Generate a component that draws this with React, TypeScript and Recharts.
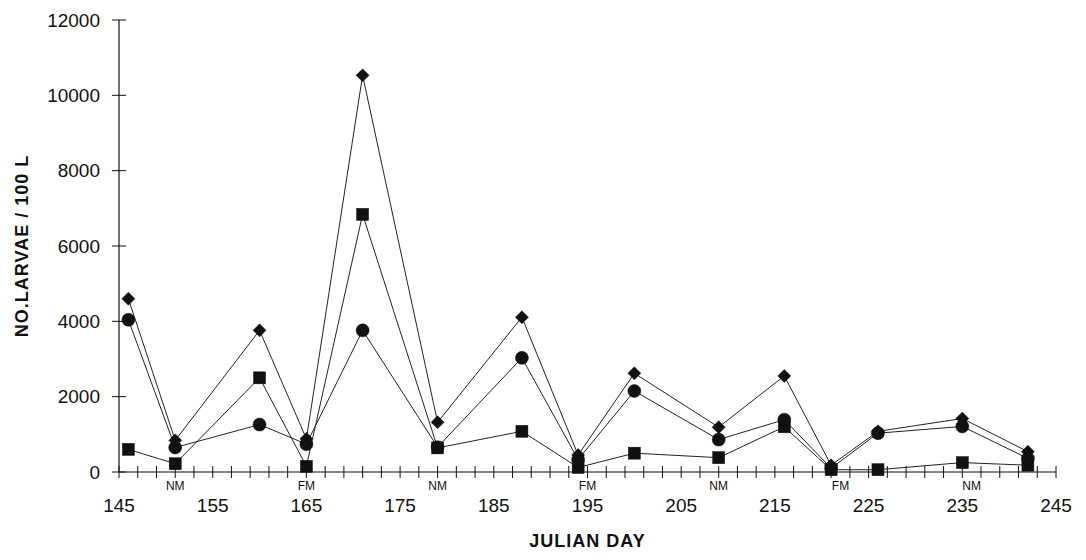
import React from 'react';
import { LineChart, Line, XAxis, YAxis } from 'recharts';

// sampling days and larval densities (no. / 100 L)
const days = [146, 151, 160, 165, 171, 179, 188, 194, 200, 209, 216, 221, 226, 235, 242];
const totalLarvae = [4600, 840, 3760, 880, 10530, 1320, 4110, 450, 2620, 1190, 2550, 180, 1080, 1420, 540];
const circleLarvae = [4040, 650, 1260, 740, 3760, 660, 3030, 330, 2150, 860, 1390, 100, 1030, 1210, 360];
const squareLarvae = [600, 220, 2500, 150, 6840, 640, 1080, 120, 500, 380, 1200, 60, 60, 250, 180];

const yTicks = [0, 2000, 4000, 6000, 8000, 10000, 12000];
const dayLabels = [145, 155, 165, 175, 185, 195, 205, 215, 225, 235, 245];

// lunar phases marked under the axis
const moonDays = [151, 165, 179, 195, 209, 222, 236];
const moonLabels = ['NM', 'FM', 'NM', 'FM', 'NM', 'FM', 'NM'];

const W = 1070;
const H = 545;
const MARGIN = { top: 12, right: 22, bottom: 6, left: 0 };
const Y_AXIS_W = 111;
const X_AXIS_H = 75;
const PLOT_TOP = MARGIN.top;
const PLOT_BOTTOM = H - MARGIN.bottom - X_AXIS_H;
const PLOT_LEFT = MARGIN.left + Y_AXIS_W;
const PLOT_RIGHT = W - MARGIN.right;

const FONT = 'Arial, "Liberation Sans", Helvetica, sans-serif';
const INK = '#111';

const data = days.map((day, i) => ({
  day,
  total: totalLarvae[i],
  circle: circleLarvae[i],
  square: squareLarvae[i],
}));

// minor ticks every second day, plus the moon-phase positions
const minorDays: number[] = [];
for (let d = 145; d <= 245; d += 2) minorDays.push(d);
const xTicks = Array.from(new Set([...minorDays, ...moonDays])).sort((a, b) => a - b);

const DayTick = (props: any) => {
  const { x, y, payload } = props;
  const v = payload.value;
  const onGrid = (v - 145) % 2 === 0;
  const major = dayLabels.includes(v);
  const m = moonDays.indexOf(v);
  return (
    <g>
      {onGrid && <line x1={x} x2={x} y1={y - 6} y2={y + 6} stroke={INK} strokeWidth={1} />}
      {m >= 0 && (
        <text x={x} y={y + 14} textAnchor="middle" dominantBaseline="central" fontSize={12} fontFamily={FONT} fill={INK}>
          {moonLabels[m]}
        </text>
      )}
      {major && (
        <text x={x} y={y + 33} textAnchor="middle" dominantBaseline="central" fontSize={19} fontFamily={FONT} fill={INK}>
          {v}
        </text>
      )}
    </g>
  );
};

const LarvaeTick = (props: any) => {
  const { x, y, payload } = props;
  return (
    <g>
      <line x1={x - 7} x2={x + 7} y1={y} y2={y} stroke={INK} strokeWidth={1} />
      <text x={x - 19} y={y} textAnchor="end" dominantBaseline="central" fontSize={19} fontFamily={FONT} fill={INK}>
        {payload.value}
      </text>
    </g>
  );
};

const diamondDot = (p: any) => {
  const { cx, cy, index } = p;
  const r = 6.5;
  return (
    <path
      key={`dia-${index}`}
      d={`M${cx},${cy - r}L${cx + r},${cy}L${cx},${cy + r}L${cx - r},${cy}Z`}
      fill={INK}
      stroke={INK}
      strokeWidth={0.5}
    />
  );
};

const circleDot = (p: any) => {
  const { cx, cy, index } = p;
  return <circle key={`cir-${index}`} cx={cx} cy={cy} r={6.5} fill={INK} stroke={INK} strokeWidth={0.5} />;
};

const squareDot = (p: any) => {
  const { cx, cy, index } = p;
  const s = 12;
  return <rect key={`sq-${index}`} x={cx - s / 2} y={cy - s / 2} width={s} height={s} fill={INK} stroke={INK} strokeWidth={0.5} />;
};

const YTitle = () => {
  const cx = 14;
  const cy = (PLOT_TOP + PLOT_BOTTOM) / 2;
  return (
    <text
      x={cx}
      y={cy}
      transform={`rotate(-90 ${cx} ${cy})`}
      textAnchor="middle"
      dominantBaseline="central"
      fontSize={18}
      fontWeight="bold"
      letterSpacing={1}
      fontFamily={FONT}
      fill={INK}
    >
      NO.LARVAE / 100 L
    </text>
  );
};

const XTitle = () => (
  <text
    x={(PLOT_LEFT + PLOT_RIGHT) / 2}
    y={PLOT_BOTTOM + 69}
    textAnchor="middle"
    dominantBaseline="central"
    fontSize={18}
    fontWeight="bold"
    letterSpacing={1}
    fontFamily={FONT}
    fill={INK}
  >
    JULIAN DAY
  </text>
);

export default function App() {
  return (
    <div style={{ width: W, height: H, background: '#fff' }}>
      <LineChart width={W} height={H} data={data} margin={MARGIN}>
        <XAxis
          dataKey="day"
          type="number"
          domain={[145, 245]}
          ticks={xTicks}
          interval={0}
          tick={<DayTick />}
          tickLine={false}
          tickSize={0}
          tickMargin={0}
          height={X_AXIS_H}
          axisLine={{ stroke: INK, strokeWidth: 1.2 }}
          label={{ content: () => <XTitle /> }}
        />
        <YAxis
          type="number"
          domain={[0, 12000]}
          ticks={yTicks}
          interval={0}
          tick={<LarvaeTick />}
          tickLine={false}
          tickSize={0}
          tickMargin={0}
          width={Y_AXIS_W}
          axisLine={{ stroke: INK, strokeWidth: 1.2 }}
          label={{ content: () => <YTitle /> }}
        />
        <Line
          type="linear"
          dataKey="total"
          stroke="#222"
          strokeWidth={1}
          dot={diamondDot}
          activeDot={false}
          isAnimationActive={false}
        />
        <Line
          type="linear"
          dataKey="square"
          stroke="#222"
          strokeWidth={1}
          dot={squareDot}
          activeDot={false}
          isAnimationActive={false}
        />
        <Line
          type="linear"
          dataKey="circle"
          stroke="#222"
          strokeWidth={1}
          dot={circleDot}
          activeDot={false}
          isAnimationActive={false}
        />
      </LineChart>
    </div>
  );
}
